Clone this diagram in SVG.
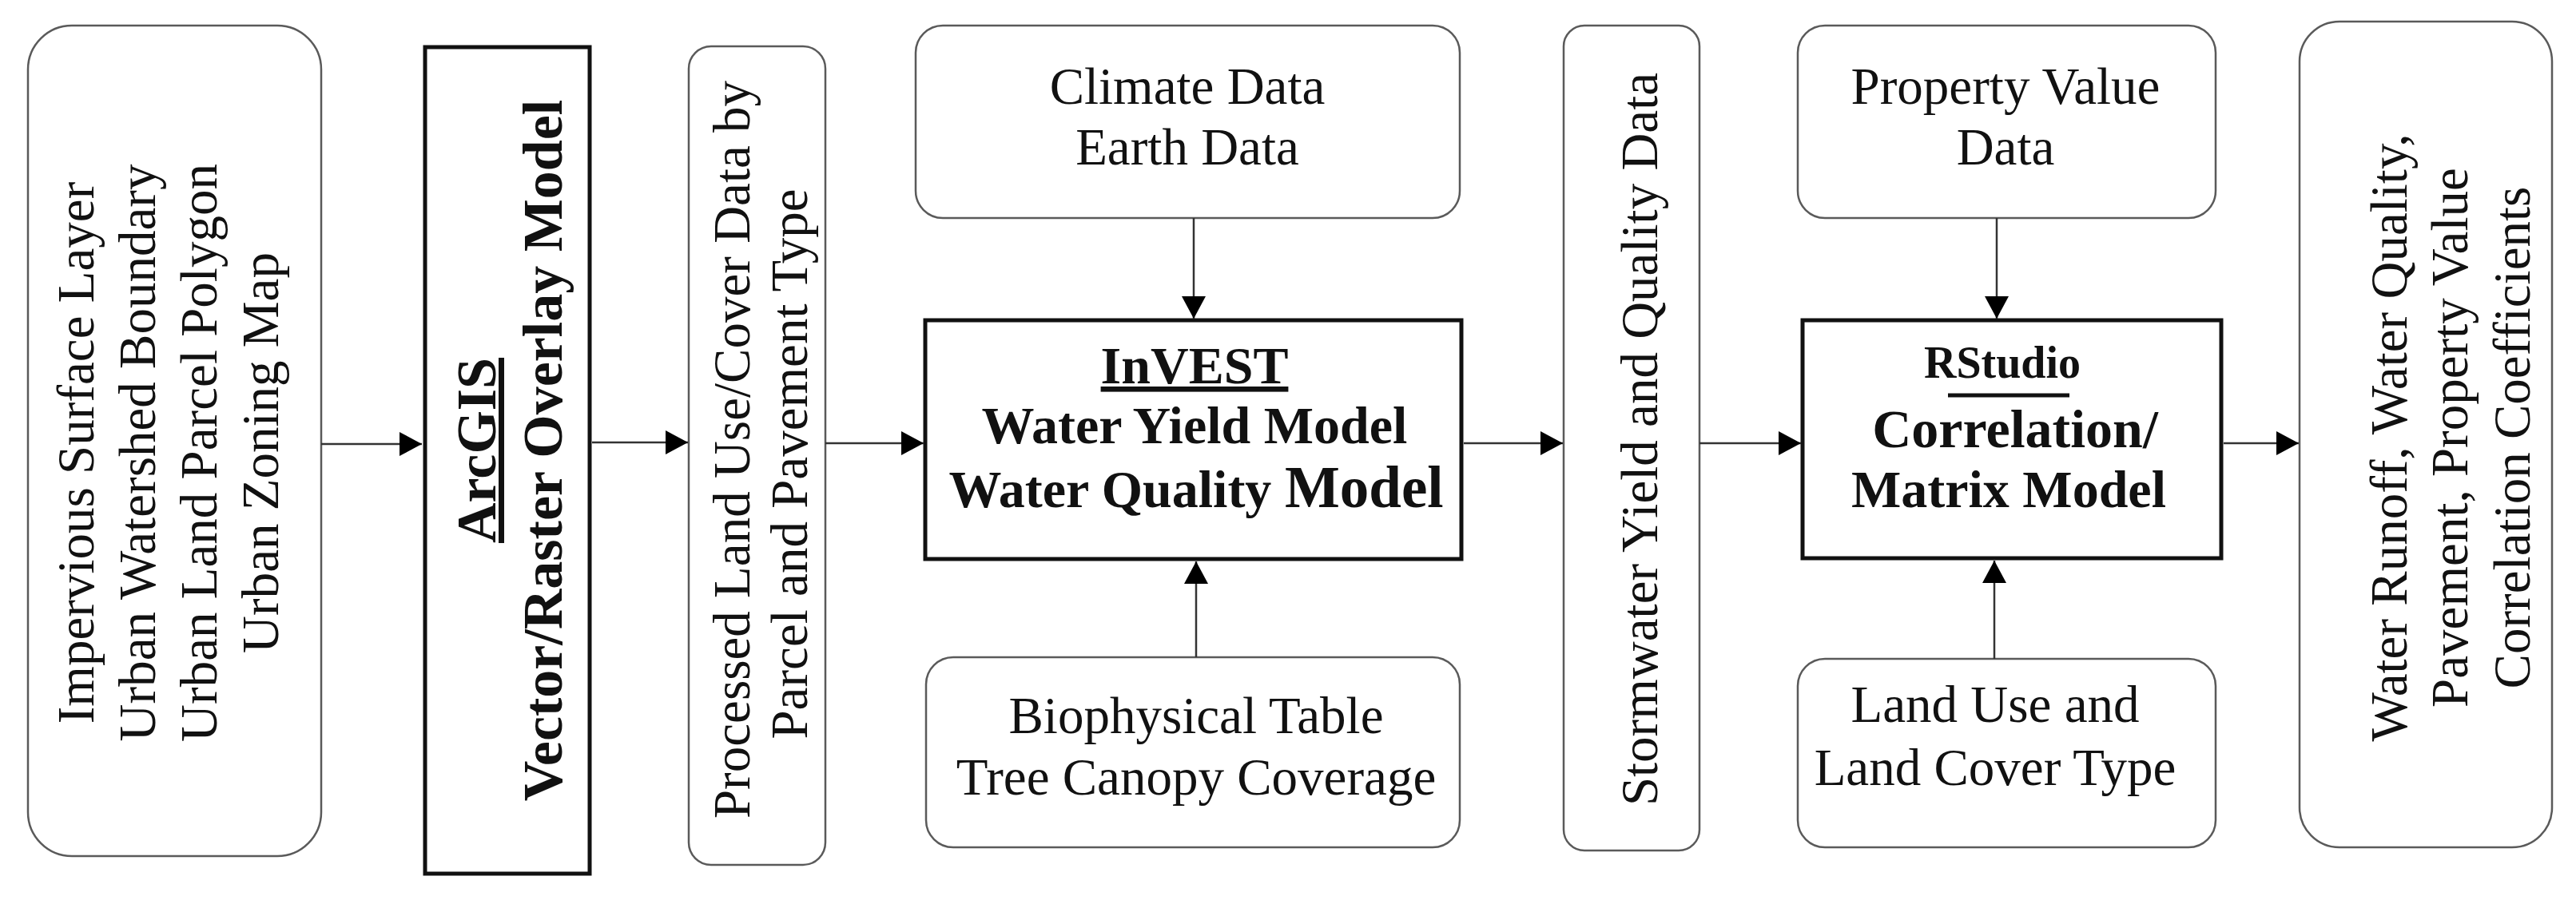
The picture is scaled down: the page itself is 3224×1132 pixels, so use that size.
<svg xmlns="http://www.w3.org/2000/svg" width="3224" height="1132" viewBox="0 0 3224 1132">
<defs>
<style>
.rbox{fill:#fff;stroke:#5a5a5a;stroke-width:2.5}
.tbox{fill:#fff;stroke:#111;stroke-width:5}
text{font-family:"Liberation Serif","Times New Roman",serif;font-size:65px;fill:#111;text-anchor:middle}
.b{font-weight:bold}
.u{text-decoration:underline}
.conn line{stroke:#333;stroke-width:2.5;marker-end:url(#ah)}
</style>
<marker id="ah" markerUnits="userSpaceOnUse" markerWidth="28" markerHeight="30" refX="28" refY="15" orient="auto">
<path d="M0,0 L28,15 L0,30 Z" fill="#000"/>
</marker>
</defs>
<rect width="3224" height="1132" fill="#fff"/>

<g id="inputs">
<rect class="rbox" x="35" y="32" width="367" height="1040" rx="55"/>
<g transform="translate(0,567) rotate(-90)">
<text x="0" y="117">Impervious Surface Layer</text>
<text x="0" y="194">Urban Watershed Boundary</text>
<text x="0" y="271">Urban Land Parcel Polygon</text>
<text x="0" y="348">Urban Zoning Map</text>
</g>
</g>

<g id="arcgis">
<rect class="tbox" x="532" y="59" width="206" height="1035"/>
<g transform="translate(0,564) rotate(-90)">
<text class="b u" x="0" y="620" style="font-size:70px">ArcGIS</text>
<text class="b" x="0" y="703" style="font-size:70px">Vector/Raster Overlay Model</text>
</g>
</g>

<g id="processed">
<rect class="rbox" x="862" y="58" width="171" height="1025" rx="28"/>
<g transform="translate(0,570) rotate(-90)">
<text x="7" y="938">Processed Land Use/Cover Data by</text>
<text x="-11" y="1010">Parcel and Pavement Type</text>
</g>
</g>

<g id="climate">
<rect class="rbox" x="1146" y="32" width="681" height="241" rx="34"/>
<text x="1486" y="130">Climate Data</text>
<text x="1486" y="206">Earth Data</text>
</g>

<g id="invest">
<rect class="tbox" x="1158" y="401" width="671" height="299"/>
<text class="b u" x="1495" y="480" style="font-size:66px">InVEST</text>
<text class="b" x="1495" y="555" style="font-size:66px">Water Yield Model</text>
<text class="b" x="1497" y="635" style="font-size:66px">Water Quality <tspan style="font-size:73px">Model</tspan></text>
</g>

<g id="biophysical">
<rect class="rbox" x="1159" y="823" width="668" height="238" rx="34"/>
<text x="1497" y="918">Biophysical Table</text>
<text x="1497" y="995">Tree Canopy Coverage</text>
</g>

<g id="stormwater">
<rect class="rbox" x="1957" y="32" width="170" height="1033" rx="26"/>
<g transform="translate(0,550) rotate(-90)">
<text x="0" y="2074">Stormwater Yield and Quality Data</text>
</g>
</g>

<g id="property">
<rect class="rbox" x="2250" y="32" width="523" height="241" rx="34"/>
<text x="2510" y="130">Property Value</text>
<text x="2510" y="206">Data</text>
</g>

<g id="rstudio">
<rect class="tbox" x="2256" y="401" width="524" height="298"/>
<text class="b" x="2506" y="473" style="font-size:56px">RStudio</text>
<line x1="2438" y1="495" x2="2590" y2="495" stroke="#111" stroke-width="5"/>
<text class="b" x="2522" y="560" style="font-size:68px">Correlation/</text>
<text class="b" x="2514" y="635" style="font-size:66px">Matrix Model</text>
</g>

<g id="landuse">
<rect class="rbox" x="2250" y="825" width="523" height="236" rx="34"/>
<text x="2497" y="904">Land Use and</text>
<text x="2497" y="983">Land Cover Type</text>
</g>

<g id="output">
<rect class="rbox" x="2878" y="27" width="316" height="1034" rx="50"/>
<g transform="translate(0,548) rotate(-90)">
<text x="0" y="3012">Water Runoff, Water Quality,</text>
<text x="0" y="3088">Pavement, Property Value</text>
<text x="0" y="3166">Correlation Coefficients</text>
</g>
</g>

<g id="connectors" class="conn">
<line x1="402" y1="556" x2="528" y2="556"/>
<line x1="741" y1="554" x2="861" y2="554"/>
<line x1="1033" y1="555" x2="1156" y2="555"/>
<line x1="1832" y1="555" x2="1956" y2="555"/>
<line x1="2127" y1="555" x2="2254" y2="555"/>
<line x1="2783" y1="555" x2="2877" y2="555"/>
<line x1="1494" y1="273" x2="1494" y2="399"/>
<line x1="1497" y1="823" x2="1497" y2="703"/>
<line x1="2499" y1="273" x2="2499" y2="399"/>
<line x1="2496" y1="825" x2="2496" y2="702"/>
</g>
</svg>
